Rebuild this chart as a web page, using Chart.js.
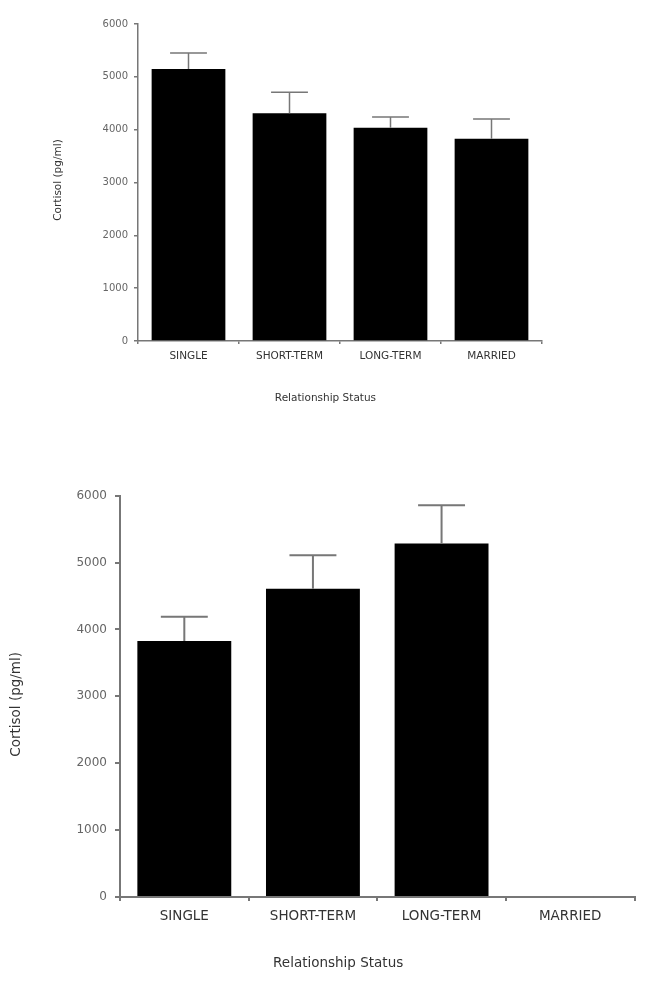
<!DOCTYPE html>
<html><head><meta charset="utf-8">
<script src="https://cdn.jsdelivr.net/npm/chart.js@4"></script>
<style>
html,body{margin:0;padding:0;background:#fff;width:653px;height:981px;overflow:hidden}
.box{position:absolute;left:0;width:653px}
</style></head><body>
<div class="box" style="top:0;height:420px"><canvas id="c1"></canvas></div>
<div class="box" style="top:460px;height:521px"><canvas id="c2"></canvas></div>
<script>
const categories = ['SINGLE','SHORT-TERM','LONG-TERM','MARRIED'];
const yTicks = [0,1000,2000,3000,4000,5000,6000];
const topMeans = [5150,4310,4037,3830];
const topErrors = [300,400,205,370];
const bottomMeans = [3827,4608,5287,0];
const bottomErrors = [365,500,570,0];
const yTitle = 'Cortisol (pg/ml)';
const xTitle = 'Relationship Status';
const FONT = '"DejaVu Sans", Verdana, sans-serif';

const errorBarPlugin = {
  id:'errorBars',
  afterDatasetsDraw(chart, args, o){
    const meta = chart.getDatasetMeta(0);
    const ys = chart.scales.y;
    const ds = chart.data.datasets[0];
    const ctx = chart.ctx;
    ctx.save();
    ctx.strokeStyle = o.color; ctx.lineWidth = o.width;
    meta.data.forEach((bar,i)=>{
      const v = ds.data[i], e = ds.errors[i];
      const y0 = ys.getPixelForValue(v), y1 = ys.getPixelForValue(v+e);
      const half = bar.width*o.capFrac;
      ctx.beginPath();
      ctx.moveTo(bar.x,y0); ctx.lineTo(bar.x,y1);
      ctx.moveTo(bar.x-half,y1); ctx.lineTo(bar.x+half,y1);
      ctx.stroke();
    });
    ctx.restore();
  }
};

const axisTitlePlugin = {
  id:'axisTitles',
  afterDraw(chart, args, o){
    const ctx = chart.ctx, a = chart.chartArea;
    ctx.save();
    ctx.fillStyle = o.color;
    ctx.textAlign = 'center'; ctx.textBaseline = 'middle';
    ctx.font = o.xSize + 'px ' + FONT;
    ctx.fillText(xTitle, a.left + (a.right-a.left)*o.xFrac, a.bottom + o.xOffset);
    ctx.font = o.ySize + 'px ' + FONT;
    ctx.translate(o.yX, (a.top+a.bottom)/2 + o.yShift);
    ctx.rotate(-Math.PI/2);
    ctx.fillText(yTitle, 0, 0);
    ctx.restore();
  }
};

function makeChart(id, means, errors, s){
  return new Chart(document.getElementById(id), {
    type:'bar',
    data:{labels:categories, datasets:[{data:means, errors:errors, backgroundColor:'#000', borderWidth:0,
      categoryPercentage:1, barPercentage:0.73}]},
    options:{
      responsive:true, maintainAspectRatio:false, animation:false,
      layout:{padding:s.pad},
      plugins:{legend:{display:false}, tooltip:{enabled:false},
        errorBars:{color:'#777', width:s.errW, capFrac:0.25},
        axisTitles:s.titles},
      scales:{
        x:{
          grid:{drawOnChartArea:false, drawTicks:true, tickLength:s.xTick, color:'#777', lineWidth:s.axisW},
          border:{display:true, color:'#777', width:s.axisW},
          ticks:{color:'#333', font:{family:FONT, size:s.xFont}, padding:s.xPad, maxRotation:0},
          afterFit:(sc)=>{sc.height = s.xH;}
        },
        y:{
          min:0, max:6000,
          grid:{drawOnChartArea:false, drawTicks:true, tickLength:s.yTick, color:'#777', lineWidth:s.axisW},
          border:{display:true, color:'#777', width:s.axisW},
          ticks:{color:'#666', font:{family:FONT, size:s.yFont}, padding:s.yPad, callback:(v)=>String(v)},
          afterBuildTicks:(sc)=>{sc.ticks = yTicks.map(v=>({value:v}));},
          afterFit:(sc)=>{sc.width = s.yW;}
        }
      }
    },
    plugins:[errorBarPlugin, axisTitlePlugin]
  });
}

makeChart('c1', topMeans, topErrors, {
  pad:{left:0, top:24, right:111, bottom:0},
  yW:138, xH:79, xTick:3, yTick:4, xPad:6, yPad:6, xFont:10.5, yFont:10, axisW:1.5, errW:1.5,
  titles:{color:'#333', xSize:10.5, ySize:10.5, xFrac:0.464, xOffset:57, yX:58, yShift:-2.5}
});
makeChart('c2', bottomMeans, bottomErrors, {
  pad:{left:0, top:35.7, right:18.5, bottom:0},
  yW:120, xH:84, xTick:4, yTick:5, xPad:7, yPad:8, xFont:13.5, yFont:12, axisW:2, errW:2,
  titles:{color:'#333', xSize:13.5, ySize:13.5, xFrac:0.424, xOffset:66, yX:16, yShift:8}
});
</script>
</body></html>
